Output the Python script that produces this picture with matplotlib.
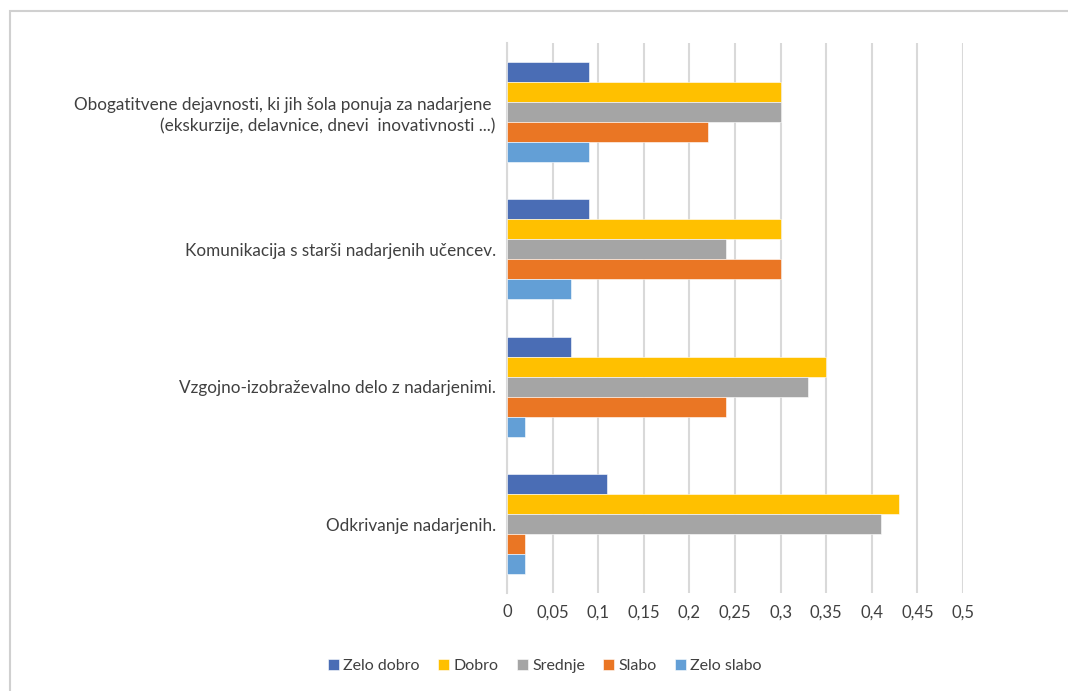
import numpy as np
import matplotlib.pyplot as plt
from matplotlib.patches import Rectangle
from matplotlib.ticker import FuncFormatter

plt.rcParams['font.family'] = ['Lato', 'DejaVu Sans']

categories = [
    'Obogatitvene dejavnosti, ki jih šola ponuja za nadarjene \n(ekskurzije, delavnice, dnevi  inovativnosti ...)',
    'Komunikacija s starši nadarjenih učencev.',
    'Vzgojno-izobraževalno delo z nadarjenimi.',
    'Odkrivanje nadarjenih.',
]
series = ['Zelo dobro', 'Dobro', 'Srednje', 'Slabo', 'Zelo slabo']
colors = ['#4a6db5', '#ffc000', '#a5a5a5', '#ea7624', '#639fd6']

zelo_dobro = [0.09, 0.09, 0.07, 0.11]
dobro = [0.30, 0.30, 0.35, 0.43]
srednje = [0.30, 0.24, 0.33, 0.41]
slabo = [0.22, 0.30, 0.24, 0.02]
zelo_slabo = [0.09, 0.07, 0.02, 0.02]
values = [zelo_dobro, dobro, srednje, slabo, zelo_slabo]

txt = '#404040'
grid_c = '#d9d9d9'

fig = plt.figure(figsize=(10.68, 6.91), dpi=100)
ax = fig.add_axes([0.4747, 0.1418, 0.427, 0.796])

# frame around the whole chart
fig.patches.append(Rectangle((10 / 1068, -0.05), 1.2, 1 - 11 / 691 + 0.05,
                             transform=fig.transFigure, fill=False,
                             edgecolor='#d0d0d0', lw=1.5, clip_on=False))

y = np.arange(len(categories))
h = 0.1455
for i, (name, vals, c) in enumerate(zip(series, values, colors)):
    off = (i - 2) * h
    ax.barh(y + off, vals, height=h, color=c, label=name,
            edgecolor='white', linewidth=0.4, zorder=3)

ax.set_xlim(0, 0.5)
ax.set_ylim(len(categories) - 0.5, -0.5)
ax.set_xticks(np.arange(0, 0.51, 0.05))
ax.xaxis.set_major_formatter(FuncFormatter(lambda v, p: ('%g' % round(v, 2)).replace('.', ',')))
ax.set_yticks(y)
ax.set_yticklabels(categories, ha='right', linespacing=1.3)
ax.tick_params(axis='both', length=0, colors=txt)
ax.tick_params(axis='y', pad=8, labelsize=12.3)
ax.tick_params(axis='x', pad=8, labelsize=12)
ax.grid(axis='x', color=grid_c, lw=1.5, zorder=0)
for s in ['top', 'right', 'bottom']:
    ax.spines[s].set_visible(False)
ax.spines['left'].set_color(grid_c)
ax.spines['left'].set_linewidth(1.5)

leg = fig.legend(loc='center', bbox_to_anchor=(545 / 1068, 1 - 666 / 691), ncol=5,
                 frameon=False, fontsize=11.5, handlelength=0.7, handleheight=0.7,
                 handletextpad=0.25, columnspacing=1.15)
for t in leg.get_texts():
    t.set_color(txt)

fig.savefig('out.png', dpi=100)
